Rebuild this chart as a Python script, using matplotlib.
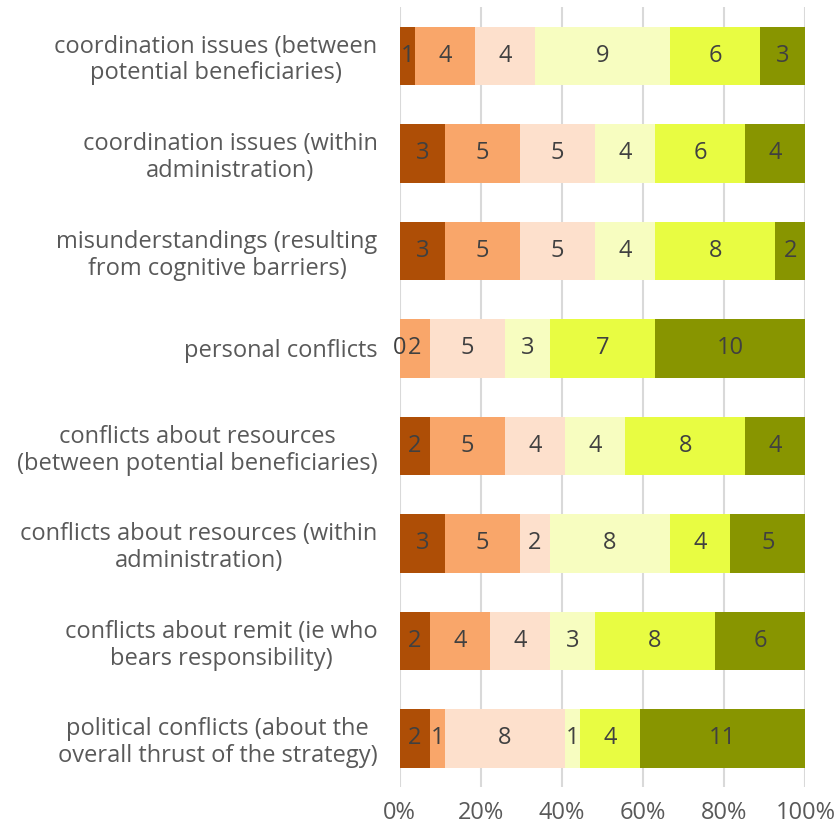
import numpy as np
import matplotlib.pyplot as plt

# categories top to bottom
categories = [
    "coordination issues (between\npotential beneficiaries)",
    "coordination issues (within\nadministration)",
    "misunderstandings (resulting\nfrom cognitive barriers)",
    "personal conflicts",
    "conflicts about resources\n(between potential beneficiaries)",
    "conflicts about resources (within\nadministration)",
    "conflicts about remit (ie who\nbears responsibility)",
    "political conflicts (about the\noverall thrust of the strategy)",
]
s1 = [1, 3, 3, 0, 2, 3, 2, 2]
s2 = [4, 5, 5, 2, 5, 5, 4, 1]
s3 = [4, 5, 5, 5, 4, 2, 4, 8]
s4 = [9, 4, 4, 3, 4, 8, 3, 1]
s5 = [6, 6, 8, 7, 8, 4, 8, 4]
s6 = [3, 4, 2, 10, 4, 5, 6, 11]
colors = ["#AE4E06", "#F9A66A", "#FDE0CC", "#F7FDC0", "#E8FC42", "#889500"]
xticklabels = ["0%", "20%", "40%", "60%", "80%", "100%"]

plt.rcParams['font.family'] = ['Open Sans', 'DejaVu Sans']

fig = plt.figure(figsize=(8.38, 8.26), dpi=100)
ax = fig.add_axes([0.477, 0.047, 0.484, 0.9445])

series = np.array([s1, s2, s3, s4, s5, s6], dtype=float)
totals = series.sum(axis=0)
y = np.arange(len(categories))
left = np.zeros(len(categories))
for vals, col in zip(series, colors):
    w = vals / totals
    ax.barh(y, w, left=left, height=0.6, color=col, zorder=3)
    for yi, li, wi, v in zip(y, left, w, vals):
        ax.text(li + wi / 2, yi, f"{int(v)}", ha='center', va='center',
                fontsize=17, color='#404040', zorder=4)
    left += w

ax.set_ylim(len(categories) - 0.5, -0.5)
ax.set_xlim(0, 1)
ax.set_yticks(y)
ax.set_yticklabels(categories, fontsize=17, color='#595959',
                   linespacing=1.15, multialignment='center')
ax.set_xticks(np.linspace(0, 1, 6))
ax.set_xticklabels(xticklabels, fontsize=17, color='#595959')
ax.tick_params(axis='both', length=0)
ax.tick_params(axis='y', pad=16)
ax.tick_params(axis='x', pad=10)
ax.grid(axis='x', color='#D9D9D9', linewidth=1.5, zorder=0)
for sp in ax.spines.values():
    sp.set_visible(False)

plt.savefig('out.png', dpi=100)
